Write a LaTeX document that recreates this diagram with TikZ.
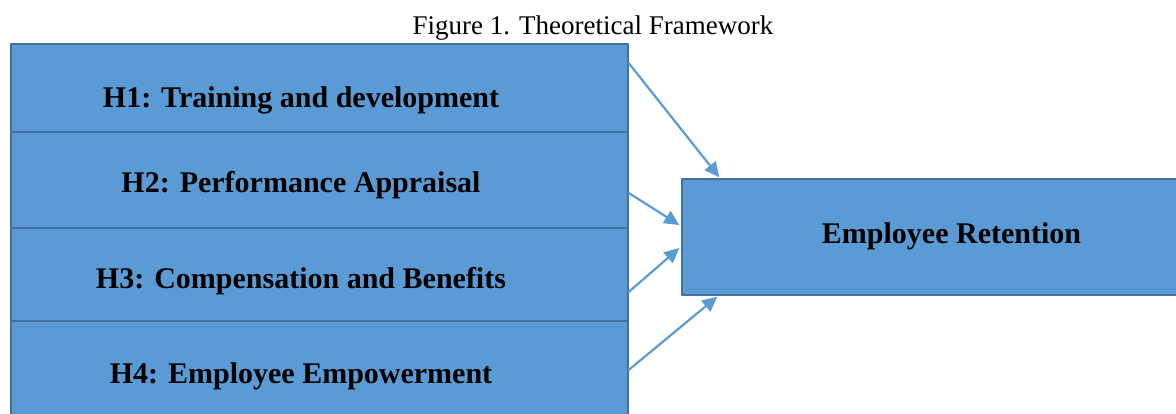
\documentclass[tikz,border=0pt]{standalone}
\usepackage{fontspec}
\setmainfont{Liberation Serif}
\usetikzlibrary{arrows.meta}
\usetikzlibrary{positioning}
\definecolor{boxblue}{HTML}{5B9BD5}
\definecolor{edgeblue}{HTML}{41719C}

\tikzset{
  hbox/.style={draw=edgeblue, fill=boxblue, line width=1.3pt, minimum width=617pt, inner sep=0pt},
  htext/.style={font=\fontsize{30}{36}\selectfont\bfseries, anchor=base, inner sep=0pt},
  link/.style={draw=boxblue, line width=2.2pt, -{Triangle[length=15pt, width=14pt]}}
}

\begin{document}
\begin{tikzpicture}[line cap=round,line join=round, x=1pt,y=1pt]
\useasboundingbox (0,0) rectangle (1176,414);
\clip (0,0) rectangle (1176,414);
% title
\node (title) [font=\fontsize{27}{32}\selectfont, anchor=base, inner sep=0pt] at (593,379) {Figure 1. Theoretical Framework};
% hypotheses
\node (h1) [hbox, minimum height=88pt] at (319.5,326) {};
\node (h2) [hbox, minimum height=96pt] at (319.5,234) {};
\node (h3) [hbox, minimum height=93pt] at (319.5,139.5) {};
\node (h4) [hbox, minimum height=99pt] at (319.5,43.5) {};
\node (t1) [htext] at (301,306) {H1: Training and development};
\node (t2) [htext] at (301,221) {H2: Performance Appraisal};
\node (t3) [htext] at (301,125) {H3: Compensation and Benefits};
\node (t4) [htext] at (301,30) {H4: Employee Empowerment};
% outcome
\node (er) [hbox, minimum width=539pt, minimum height=116pt] at (951.5,177) {};
\node (ter) [htext] at (951.5,170) {Employee Retention};
% arrows
\draw [link] ([yshift=25pt]h1.east) -- ([xshift=38pt,yshift=1pt]er.north west);
\draw [link] ([yshift=-13pt]h2.east) -- ([xshift=-2pt,yshift=12pt]er.west);
\draw [link] ([yshift=-17.5pt]h3.east) -- ([xshift=-2pt,yshift=-11pt]er.west);
\draw [link] ([yshift=0.5pt]h4.east) -- ([xshift=36pt,yshift=-1pt]er.south west);
\end{tikzpicture}
\end{document}
